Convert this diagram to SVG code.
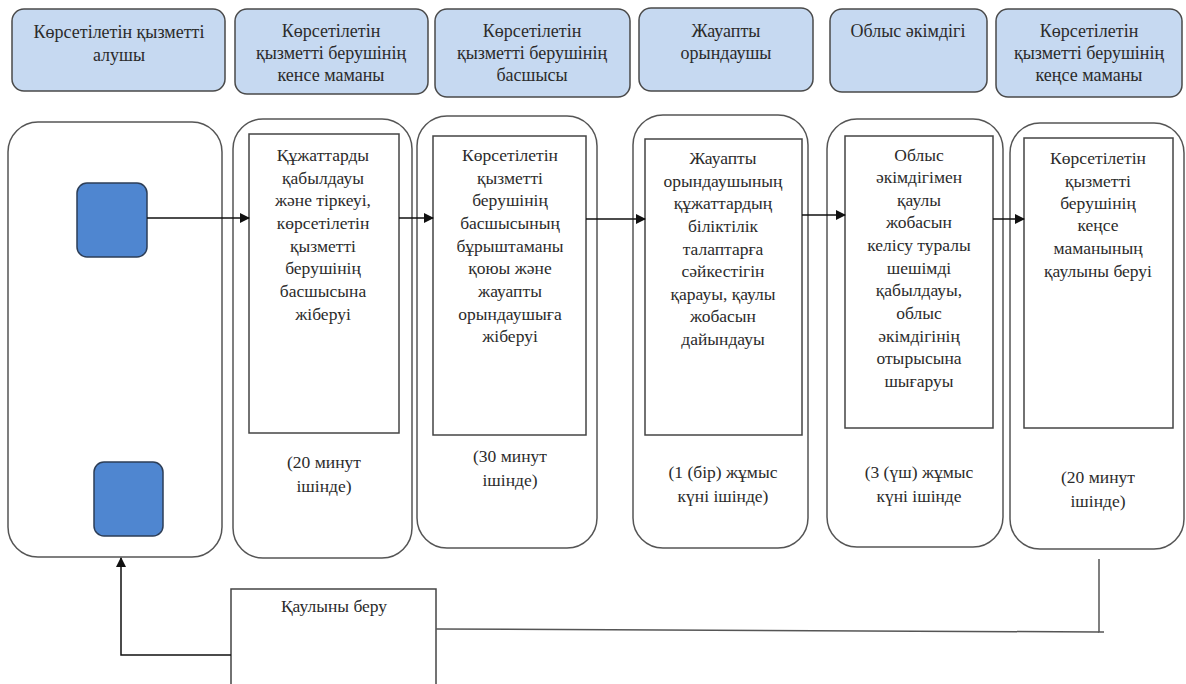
<svg xmlns="http://www.w3.org/2000/svg" width="1186" height="684" viewBox="0 0 1186 684">
<defs>
<marker id="ah" markerWidth="10" markerHeight="10" refX="9" refY="5" orient="auto" markerUnits="userSpaceOnUse">
<path d="M0,0 L10,5 L0,10 Z" fill="#111"/>
</marker>
<style>
.hdr{fill:#c6d9f1;stroke:#4a4a4a;stroke-width:1.5}
.lane{fill:#fff;stroke:#555;stroke-width:1.5}
.box{fill:#fff;stroke:#444;stroke-width:1.5}
.blue{fill:#4f86d0;stroke:#2d3e57;stroke-width:1.5}
text{font-family:'Liberation Serif','DejaVu Serif','Times New Roman',serif;font-size:17.5px;fill:#2b2b2b;text-anchor:middle}
.ht{font-size:18px}
.conn{fill:none;stroke:#111;stroke-width:1.5}
.conn2{fill:none;stroke:#555;stroke-width:1.5}
</style>
</defs>
<rect width="1186" height="684" fill="#fff"/>

<g id="h1"><rect class="hdr" x="12" y="9" width="213" height="82" rx="12"/>
<text class="ht" x="119" y="38">Көрсетілетін қызметті</text><text class="ht" x="119" y="61">алушы</text></g>
<g id="h2"><rect class="hdr" x="235" y="9" width="193" height="85" rx="12"/>
<text class="ht" x="331" y="37">Көрсетілетін</text><text class="ht" x="331" y="59">қызметті берушінің</text><text class="ht" x="331" y="81">кенсе маманы</text></g>
<g id="h3"><rect class="hdr" x="435" y="9" width="195" height="88" rx="12"/>
<text class="ht" x="532" y="37">Көрсетілетін</text><text class="ht" x="532" y="59">қызметті берушінің</text><text class="ht" x="532" y="81">басшысы</text></g>
<g id="h4"><rect class="hdr" x="639" y="8" width="174" height="83" rx="12"/>
<text class="ht" x="726" y="37">Жауапты</text><text class="ht" x="726" y="59">орындаушы</text></g>
<g id="h5"><rect class="hdr" x="830" y="9" width="157" height="83" rx="12"/>
<text class="ht" x="908" y="37">Облыс әкімдігі</text></g>
<g id="h6"><rect class="hdr" x="996" y="9" width="186" height="88" rx="12"/>
<text class="ht" x="1089" y="37">Көрсетілетін</text><text class="ht" x="1089" y="59">қызметті берушінің</text><text class="ht" x="1089" y="81">кеңсе маманы</text></g>

<g id="lane1"><rect class="lane" x="8" y="122" width="214" height="435" rx="30"/>
<rect class="blue" x="77" y="183" width="70" height="74" rx="10"/>
<rect class="blue" x="94" y="462" width="69" height="74" rx="10"/></g>

<g id="lane2"><rect class="lane" x="233" y="119" width="179" height="439" rx="30"/>
<rect class="box" x="249" y="134" width="150" height="299"/>
<text x="323" y="161">Құжаттарды</text><text x="323" y="184">қабылдауы</text><text x="323" y="206">және тіркеуі,</text><text x="323" y="229">көрсетілетін</text><text x="323" y="252">қызметті</text><text x="323" y="274">берушінің</text><text x="323" y="297">басшысына</text><text x="323" y="320">жіберуі</text>
<text x="324" y="468">(20 минут</text><text x="324" y="492">ішінде)</text></g>

<g id="lane3"><rect class="lane" x="417" y="116" width="180" height="432" rx="30"/>
<rect class="box" x="433" y="136" width="153" height="299"/>
<text x="510" y="161">Көрсетілетін</text><text x="510" y="184">қызметті</text><text x="510" y="206">берушінің</text><text x="510" y="229">басшысының</text><text x="510" y="252">бұрыштаманы</text><text x="510" y="274">қоюы және</text><text x="510" y="297">жауапты</text><text x="510" y="320">орындаушыға</text><text x="510" y="342">жіберуі</text>
<text x="510" y="462">(30 минут</text><text x="510" y="486">ішінде)</text></g>

<g id="lane4"><rect class="lane" x="633" y="115" width="175" height="433" rx="30"/>
<rect class="box" x="645" y="139" width="157" height="296"/>
<text x="723" y="164">Жауапты</text><text x="723" y="187">орындаушының</text><text x="723" y="209">құжаттардың</text><text x="723" y="232">біліктілік</text><text x="723" y="255">талаптарға</text><text x="723" y="277">сәйкестігін</text><text x="723" y="300">қарауы, қаулы</text><text x="723" y="322">жобасын</text><text x="723" y="345">дайындауы</text>
<text x="723" y="478">(1 (бір) жұмыс</text><text x="723" y="502">күні ішінде)</text></g>

<g id="lane5"><rect class="lane" x="827" y="119" width="176" height="428" rx="30"/>
<rect class="box" x="845" y="136" width="148" height="292"/>
<text x="919" y="161">Облыс</text><text x="919" y="183">әкімдігімен</text><text x="919" y="206">қаулы</text><text x="919" y="228">жобасын</text><text x="919" y="251">келісу туралы</text><text x="919" y="274">шешімді</text><text x="919" y="296">қабылдауы,</text><text x="919" y="319">облыс</text><text x="919" y="342">әкімдігінің</text><text x="919" y="364">отырысына</text><text x="919" y="387">шығаруы</text>
<text x="919" y="478">(3 (үш) жұмыс</text><text x="919" y="502">күні ішінде</text></g>

<g id="lane6"><rect class="lane" x="1010" y="123" width="174" height="426" rx="30"/>
<rect class="box" x="1024" y="138" width="149" height="290"/>
<text x="1098" y="164">Көрсетілетін</text><text x="1098" y="187">қызметті</text><text x="1098" y="209">берушінің</text><text x="1098" y="231">кеңсе</text><text x="1098" y="254">маманының</text><text x="1098" y="277">қаулыны беруі</text>
<text x="1098" y="483">(20 минут</text><text x="1098" y="507">ішінде)</text></g>

<g id="result"><rect class="box" x="231" y="589" width="205" height="110"/>
<text x="334" y="612">Қаулыны беру</text></g>

<g id="connectors">
<line class="conn" x1="147" y1="218" x2="249" y2="218" marker-end="url(#ah)"/>
<line class="conn" x1="399" y1="218" x2="433" y2="218" marker-end="url(#ah)"/>
<line class="conn" x1="586" y1="219" x2="645" y2="219" marker-end="url(#ah)"/>
<line class="conn" x1="802" y1="215" x2="845" y2="215" marker-end="url(#ah)"/>
<line class="conn" x1="993" y1="219" x2="1024" y2="219" marker-end="url(#ah)"/>
<polyline class="conn2" points="1099,559 1099,632 1104,632"/>
<line class="conn2" x1="1099" y1="632" x2="436" y2="629"/>
<polyline class="conn" points="231,655 121,655 121,558" marker-end="url(#ah)"/>
</g>
</svg>
